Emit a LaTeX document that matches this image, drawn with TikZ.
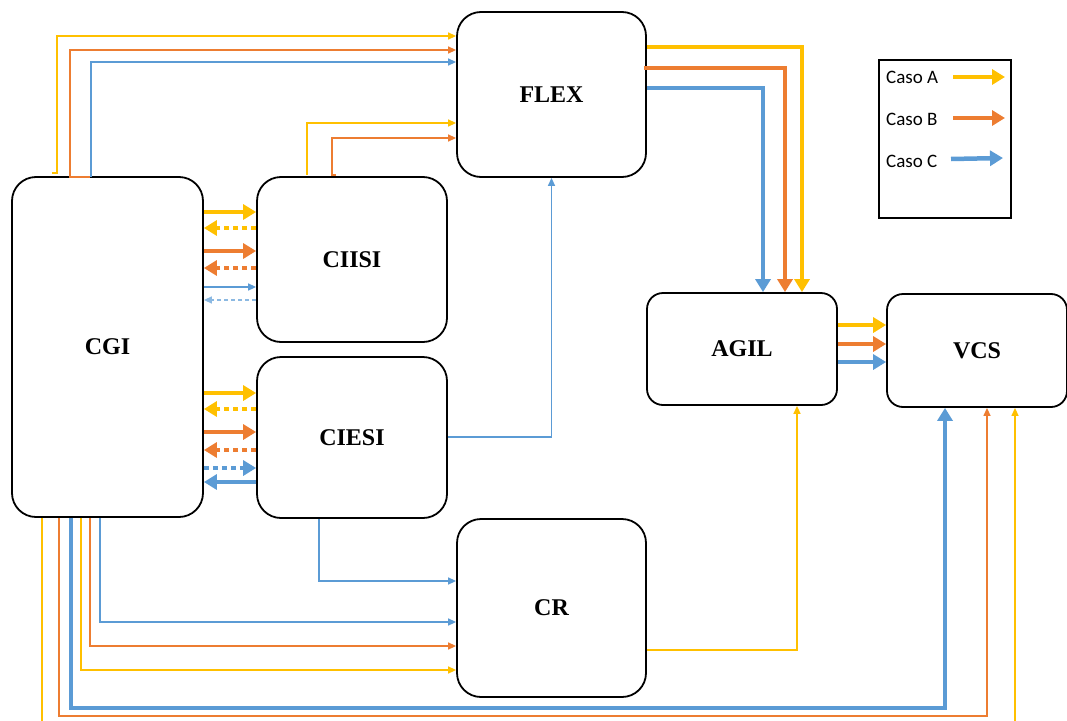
\documentclass[tikz,border=0pt]{standalone}
\usepackage{fontspec}
\setmainfont{Liberation Serif}
\newfontfamily\legfont{Carlito}
\usetikzlibrary{arrows.meta}
\definecolor{cya}{HTML}{FFC000}
\definecolor{cor}{HTML}{ED7D31}
\definecolor{cbl}{HTML}{5B9BD5}
\tikzset{
  box/.style={draw, line width=1.8pt, rounded corners=24pt, inner sep=0pt,
    font=\bfseries\fontsize{24}{26}\selectfont},
  smallbox/.style={box, rounded corners=16pt},
  thinarr/.style={line width=1.4pt, -{Triangle[length=8pt,width=7pt]}},
  bigarr/.style={line width=4.5pt, -{Triangle[length=13pt,width=15pt]}},
  dotpat/.style={dash pattern=on 5pt off 4pt},
  dashpat/.style={dash pattern=on 4pt off 3pt},
  legtext/.style={anchor=west, inner sep=0pt, font=\legfont\fontsize{19}{22}\selectfont},
}
\begin{document}
\begin{tikzpicture}[x=1pt,y=-1pt]
\useasboundingbox (0,0) rectangle (1067,720);
\clip (0,0) rectangle (1067,720);
% boxes
\node[box, minimum width=191pt, minimum height=340pt] (cgi) at (107.5,347) {CGI};
\node[box, minimum width=190pt, minimum height=165pt] (ciisi) at (352,259.5) {CIISI};
\node[box, minimum width=190pt, minimum height=161pt] (ciesi) at (352,437.5) {CIESI};
\node[box, minimum width=189pt, minimum height=165pt] (flex) at (551.5,94.5) {FLEX};
\node[box, minimum width=189pt, minimum height=178pt] (cr) at (551.5,608) {CR};
\node[smallbox, minimum width=190pt, minimum height=112pt] (agil) at (742,349) {AGIL};
\node[smallbox, minimum width=180pt, minimum height=113pt] (vcs) at (977,350.5) {VCS};
% legend
\node[draw, line width=1.5pt, minimum width=132pt, minimum height=158pt, inner sep=0pt] (leg) at (945,139) {};
\node[legtext] (la) at (886,77) {Caso A};
\node[legtext] (lb) at (886,119) {Caso B};
\node[legtext] (lc) at (886,161) {Caso C};
\coordinate (la1) at (1005,77);
\coordinate (lb1) at (1005,118);
\coordinate (lc1) at (1003,158);
\draw[bigarr, cya] (953,77) -- (la1);
\draw[bigarr, cor] (953,118) -- (lb1);
\draw[bigarr, cbl] (951,159) -- (lc1);
% CGI -> FLEX (top)
\draw[thinarr, cya] (52,173) -- (57,173) |- (flex.west |- 0,36);
\draw[thinarr, cor] (90,177) -- (70,177) |- (flex.west |- 0,50);
\draw[thinarr, cbl] (91,177) |- (flex.west |- 0,62);
% CIISI -> FLEX
\draw[thinarr, cya] (307,175) |- (flex.west |- 0,123);
\draw[thinarr, cor] (336,175) -- (332,175) |- (flex.west |- 0,138);
% CGI <-> CIISI
\draw[bigarr, cya] (cgi.east |- 0,212) -- (ciisi.west |- 0,212);
\draw[bigarr, cya, dotpat] (ciisi.west |- 0,228) -- (cgi.east |- 0,228);
\draw[bigarr, cor] (cgi.east |- 0,251) -- (ciisi.west |- 0,251);
\draw[bigarr, cor, dotpat] (ciisi.west |- 0,268) -- (cgi.east |- 0,268);
\draw[thinarr, cbl] (cgi.east |- 0,287) -- (ciisi.west |- 0,287);
\draw[thinarr, cbl!70, dashpat] (ciisi.west |- 0,300) -- (cgi.east |- 0,300);
% CGI <-> CIESI
\draw[bigarr, cya] (cgi.east |- 0,393) -- (ciesi.west |- 0,393);
\draw[bigarr, cya, dotpat] (ciesi.west |- 0,409) -- (cgi.east |- 0,409);
\draw[bigarr, cor] (cgi.east |- 0,432) -- (ciesi.west |- 0,432);
\draw[bigarr, cor, dotpat] (ciesi.west |- 0,450) -- (cgi.east |- 0,450);
\draw[bigarr, cbl, dotpat] (cgi.east |- 0,468) -- (ciesi.west |- 0,468);
\draw[bigarr, cbl] (ciesi.west |- 0,482) -- (cgi.east |- 0,482);
% CIESI -> FLEX
\draw[thinarr, cbl] (ciesi.east |- 0,437) -| (flex.south);
% FLEX -> AGIL
\draw[bigarr, cya] (flex.east |- 0,47) -| (agil.north -| 802,0);
\draw[bigarr, cor] (644,68) -| (agil.north -| 785,0);
\draw[bigarr, cbl] (flex.east |- 0,88) -| (agil.north -| 763,0);
% AGIL -> VCS
\draw[bigarr, cya] (agil.east |- 0,325) -- (vcs.west |- 0,325);
\draw[bigarr, cor] (agil.east |- 0,344) -- (vcs.west |- 0,344);
\draw[bigarr, cbl] (agil.east |- 0,362) -- (vcs.west |- 0,362);
% CGI -> CR
\draw[thinarr, cbl] (cgi.south -| 100,0) |- (cr.west |- 0,622);
\draw[thinarr, cor] (cgi.south -| 90,0) |- (cr.west |- 0,646);
\draw[thinarr, cya] (cgi.south -| 81,0) |- (cr.west |- 0,670);
% CIESI -> CR
\draw[thinarr, cbl] (ciesi.south -| 319,0) |- (cr.west |- 0,581);
% CR -> AGIL
\draw[thinarr, cya] (cr.east |- 0,650) -| (agil.south -| 797,0);
% CGI -> VCS
\draw[thinarr, cya] (cgi.south -| 42,0) |- (1015,735) -- (vcs.south -| 1015,0);
\draw[thinarr, cor] (cgi.south -| 59,0) |- (987,716) -- (vcs.south -| 987,0);
\draw[bigarr, cbl] (cgi.south -| 71,0) |- (945,708) -- (vcs.south -| 945,0);
\end{tikzpicture}
\end{document}
